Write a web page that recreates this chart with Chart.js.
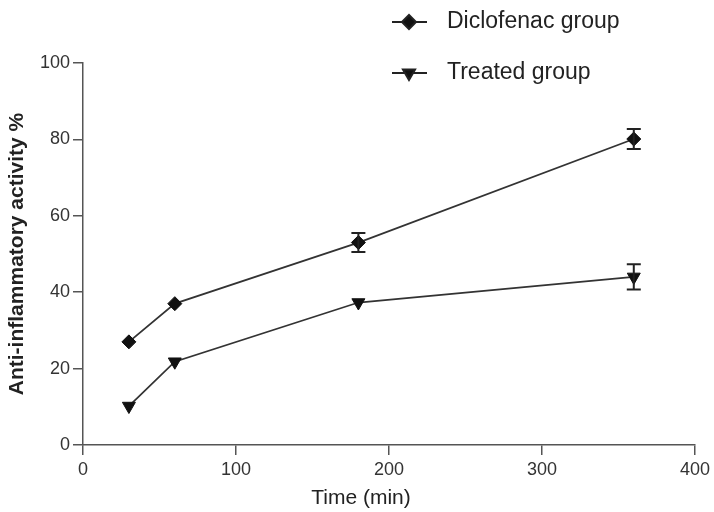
<!DOCTYPE html>
<html>
<head>
<meta charset="utf-8">
<script src="https://cdn.jsdelivr.net/npm/chart.js@4/dist/chart.umd.min.js"></script>
<style>
  html, body { margin: 0; padding: 0; background: #fff; }
  #wrap { width: 714px; height: 512px; }
</style>
</head>
<body>
<div id="wrap"><canvas id="c" width="714" height="512"></canvas></div>
<script>
const times = [30, 60, 180, 360];
const diclofenac = [27, 37, 53, 80.1];
const diclofenacErr = [0, 0, 2.5, 2.6];
const treated = [10.2, 21.8, 37.3, 44];
const treatedErr = [0, 0, 0, 3.3];
const seriesLabels = ['Diclofenac group', 'Treated group'];
const xTitle = 'Time (min)';
const yTitle = 'Anti-inflammatory activity %';

const ink = '#222';
const axisColor = '#555';
const FONT = '"Liberation Sans", Arial, sans-serif';

const errorBars = {
  id: 'errorBars',
  afterDatasetsDraw(chart) {
    const ctx = chart.ctx;
    const ys = chart.scales.y;
    chart.data.datasets.forEach((ds, di) => {
      const meta = chart.getDatasetMeta(di);
      if (!ds.errors) return;
      ctx.save();
      ctx.strokeStyle = ink;
      ctx.lineWidth = 2;
      meta.data.forEach((pt, i) => {
        const e = ds.errors[i];
        if (!e) return;
        const v = ds.data[i].y;
        const yt = ys.getPixelForValue(v + e);
        const yb = ys.getPixelForValue(v - e);
        const x = pt.x;
        ctx.beginPath();
        ctx.moveTo(x, yt); ctx.lineTo(x, yb);
        ctx.moveTo(x - 7, yt); ctx.lineTo(x + 7, yt);
        ctx.moveTo(x - 7, yb); ctx.lineTo(x + 7, yb);
        ctx.stroke();
      });
      ctx.restore();
    });
  }
};

const customLegend = {
  id: 'customLegend',
  afterDraw(chart) {
    const ctx = chart.ctx;
    const rows = [22, 73];
    chart.data.datasets.forEach((ds, i) => {
      const y = rows[i];
      const cx = 409;
      ctx.save();
      ctx.strokeStyle = ink;
      ctx.lineWidth = 2;
      ctx.beginPath();
      ctx.moveTo(392, y); ctx.lineTo(427, y);
      ctx.stroke();
      ctx.fillStyle = '#111';
      Chart.helpers.drawPoint(ctx, {
        pointStyle: ds.pointStyle,
        rotation: ds.pointRotation || 0,
        radius: 7,
        borderWidth: 1
      }, cx, y);
      ctx.fillStyle = '#222';
      ctx.font = '23px ' + FONT;
      ctx.textBaseline = 'middle';
      ctx.textAlign = 'left';
      ctx.fillText(ds.label, 447, y);
      ctx.restore();
    });
  }
};

const xAxisTitle = {
  id: 'xAxisTitle',
  afterDraw(chart) {
    const ctx = chart.ctx;
    ctx.save();
    ctx.fillStyle = '#222';
    ctx.font = '21px ' + FONT;
    ctx.textAlign = 'center';
    ctx.textBaseline = 'middle';
    ctx.fillText(xTitle, 361, 498);
    ctx.restore();
  }
};

const toXY = (arr) => arr.map((v, i) => ({ x: times[i], y: v }));

new Chart(document.getElementById('c'), {
  type: 'line',
  data: {
    datasets: [
      {
        label: seriesLabels[0],
        data: toXY(diclofenac),
        errors: diclofenacErr,
        borderColor: '#333',
        borderWidth: 1.8,
        pointStyle: 'rectRot',
        pointRadius: 7,
        pointBackgroundColor: '#111',
        pointBorderColor: '#111',
        pointBorderWidth: 1,
        tension: 0,
        fill: false
      },
      {
        label: seriesLabels[1],
        data: toXY(treated),
        errors: treatedErr,
        borderColor: '#333',
        borderWidth: 1.8,
        pointStyle: 'triangle',
        pointRotation: 180,
        pointRadius: 7.5,
        pointBackgroundColor: '#111',
        pointBorderColor: '#111',
        pointBorderWidth: 1,
        tension: 0,
        fill: false
      }
    ]
  },
  options: {
    responsive: false,
    animation: false,
    devicePixelRatio: 1,
    layout: { padding: { left: 0, right: 19, top: 63, bottom: 0 } },
    plugins: { legend: { display: false }, tooltip: { enabled: false } },
    scales: {
      x: {
        type: 'linear',
        min: 0, max: 400,
        afterFit(s) { s.height = 67; },
        ticks: { stepSize: 100, color: '#333', padding: 4, font: { size: 18, family: FONT } },
        grid: { display: true, drawOnChartArea: false, drawTicks: true, tickLength: 10,
                color: axisColor, lineWidth: 1.5 },
        border: { display: true, color: axisColor, width: 1.5 },
        title: { display: false }
      },
      y: {
        type: 'linear',
        min: 0, max: 100,
        afterFit(s) { s.width = 83; },
        ticks: { stepSize: 20, color: '#333', padding: 3, font: { size: 18, family: FONT } },
        grid: { display: true, drawOnChartArea: false, drawTicks: true, tickLength: 10,
                color: axisColor, lineWidth: 1.5 },
        border: { display: true, color: axisColor, width: 1.5 },
        title: { display: true, text: yTitle, color: '#222', padding: { top: 5, bottom: 0 },
                 font: { size: 21, weight: 'bold', family: FONT } }
      }
    }
  },
  plugins: [errorBars, customLegend, xAxisTitle]
});
</script>
</body>
</html>
